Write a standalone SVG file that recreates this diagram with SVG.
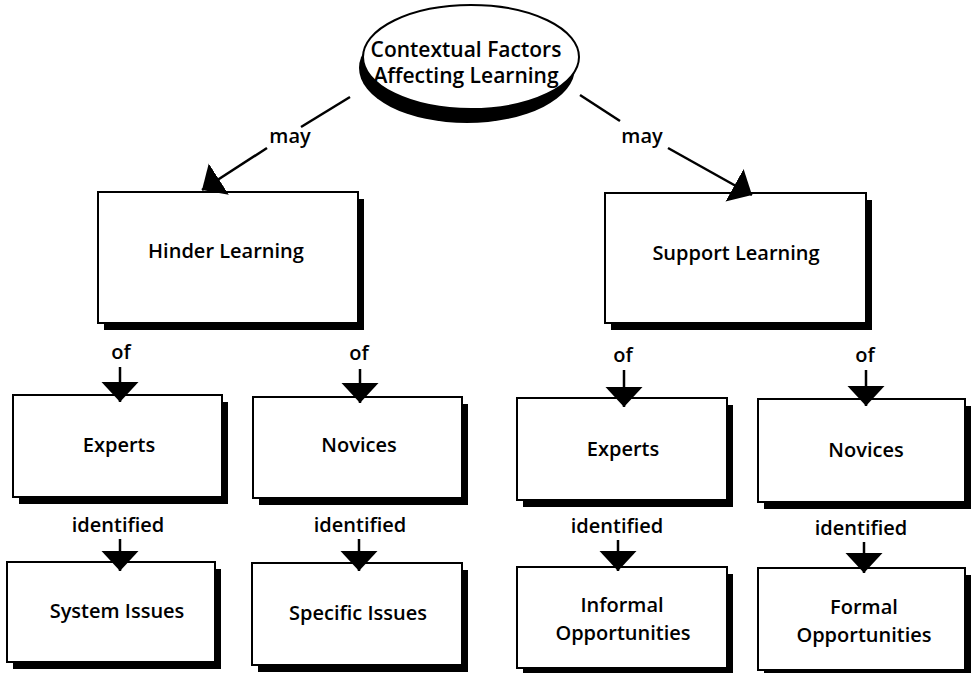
<svg xmlns="http://www.w3.org/2000/svg" width="975" height="673" viewBox="0 0 975 673">
<defs>
<style>
.box{fill:#fff;stroke:#000;stroke-width:2}
.sh{fill:#000}
.t{font-family:"Open Sans","Liberation Sans",sans-serif;font-size:20px;font-weight:600;fill:#000;text-anchor:middle}
.big{font-size:21px}
.ln{stroke:#000;stroke-width:2.5;fill:none}
.arr{marker-end:url(#ah)}
</style>
<marker id="ah" markerUnits="userSpaceOnUse" markerWidth="22" markerHeight="38" refX="20" refY="18.5" orient="auto" viewBox="0 0 22 38">
<path d="M0,0 L20,18.5 L0,37 Z" fill="#000"/>
</marker>
</defs>
<rect width="975" height="673" fill="#fff"/>

<g id="root">
<ellipse cx="467" cy="68" rx="108" ry="55" class="sh"/>
<ellipse cx="471" cy="57" rx="108" ry="52" class="box"/>
<text class="t big" x="466" y="57">Contextual Factors</text>
<text class="t big" x="466" y="83">Affecting Learning</text>
</g>

<g id="hinder">
<rect x="104" y="199" width="260" height="131" class="sh"/>
<rect x="98" y="192" width="260" height="131" class="box"/>
<text class="t" x="226" y="258">Hinder Learning</text>
</g>
<g id="support">
<rect x="611" y="200" width="261" height="130" class="sh"/>
<rect x="605" y="193" width="261" height="130" class="box"/>
<text class="t" x="736" y="260">Support Learning</text>
</g>

<g id="experts-hinder">
<rect x="19" y="402" width="209" height="102" class="sh"/>
<rect x="13" y="395" width="209" height="102" class="box"/>
<text class="t" x="119" y="452">Experts</text>
</g>
<g id="novices-hinder">
<rect x="259" y="404" width="209" height="101" class="sh"/>
<rect x="253" y="397" width="209" height="101" class="box"/>
<text class="t" x="359" y="452">Novices</text>
</g>
<g id="experts-support">
<rect x="523" y="405" width="210" height="102" class="sh"/>
<rect x="517" y="398" width="210" height="102" class="box"/>
<text class="t" x="623" y="456">Experts</text>
</g>
<g id="novices-support">
<rect x="764" y="406" width="207" height="103" class="sh"/>
<rect x="758" y="399" width="207" height="103" class="box"/>
<text class="t" x="866" y="457">Novices</text>
</g>

<g id="system">
<rect x="13" y="569" width="208" height="100" class="sh"/>
<rect x="7" y="562" width="208" height="100" class="box"/>
<text class="t" x="117" y="618">System Issues</text>
</g>
<g id="specific">
<rect x="258" y="570" width="210" height="102" class="sh"/>
<rect x="252" y="563" width="210" height="102" class="box"/>
<text class="t" x="358" y="620">Specific Issues</text>
</g>
<g id="informal">
<rect x="523" y="574" width="210" height="101" class="sh"/>
<rect x="517" y="567" width="210" height="101" class="box"/>
<text class="t" x="622" y="612">Informal</text>
<text class="t" x="623" y="640">Opportunities</text>
</g>
<g id="formal">
<rect x="764" y="575" width="207" height="102" class="sh"/>
<rect x="758" y="568" width="207" height="102" class="box"/>
<text class="t" x="864" y="614">Formal</text>
<text class="t" x="864" y="642">Opportunities</text>
</g>

<g id="connectors">
<line class="ln" x1="350" y1="97" x2="301" y2="127"/>
<line class="ln arr" x1="267" y1="148" x2="202" y2="190"/>
<text class="t" x="290" y="143">may</text>
<line class="ln" x1="580" y1="95" x2="620" y2="121"/>
<line class="ln arr" x1="668" y1="148" x2="752" y2="195"/>
<text class="t" x="642" y="143">may</text>

<text class="t" x="121" y="359">of</text>
<line class="ln arr" x1="120" y1="367" x2="120" y2="402"/>
<text class="t" x="359" y="360">of</text>
<line class="ln arr" x1="360" y1="369" x2="360" y2="403"/>
<text class="t" x="623" y="362">of</text>
<line class="ln arr" x1="624" y1="370" x2="624" y2="407"/>
<text class="t" x="865" y="362">of</text>
<line class="ln arr" x1="866" y1="370" x2="866" y2="406"/>

<text class="t" x="118" y="532">identified</text>
<line class="ln arr" x1="120" y1="539" x2="120" y2="571"/>
<text class="t" x="360" y="532">identified</text>
<line class="ln arr" x1="359" y1="539" x2="359" y2="571"/>
<text class="t" x="617" y="533">identified</text>
<line class="ln arr" x1="618" y1="540" x2="618" y2="571"/>
<text class="t" x="861" y="535">identified</text>
<line class="ln arr" x1="864" y1="542" x2="864" y2="573"/>
</g>
</svg>
